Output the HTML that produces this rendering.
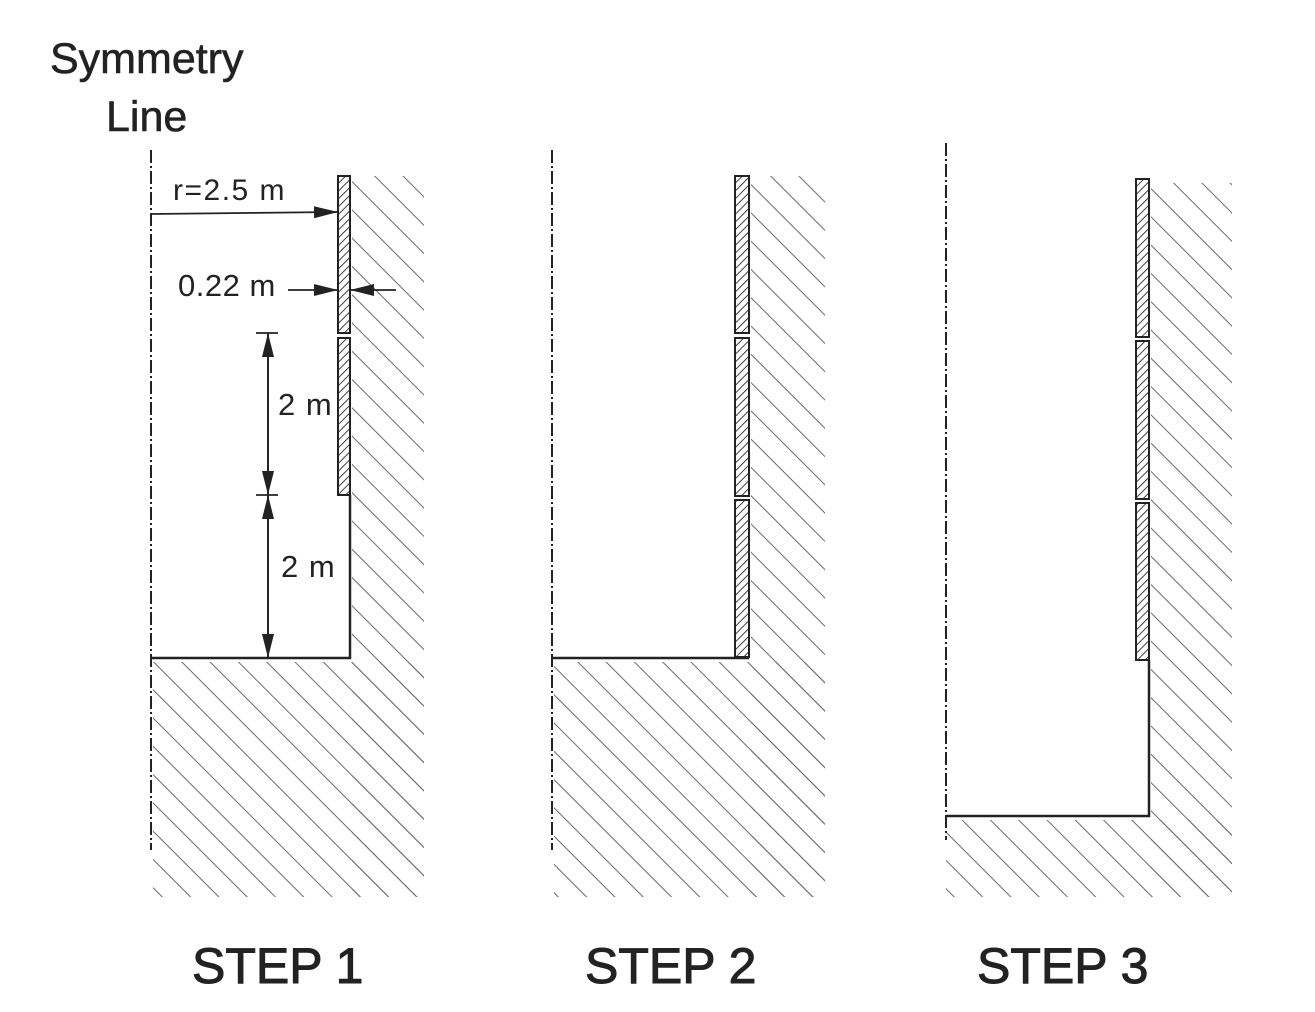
<!DOCTYPE html>
<html><head><style>html,body{margin:0;padding:0;background:#fff}svg{display:block}</style></head>
<body>
<svg width="1315" height="1012" viewBox="0 0 1315 1012" xmlns="http://www.w3.org/2000/svg" font-family="Liberation Sans, sans-serif">
<defs>
<pattern id="h" patternUnits="userSpaceOnUse" width="20" height="20" patternTransform="rotate(-45)">
<line x1="0" y1="0" x2="0" y2="20" stroke="#6a6a6a" stroke-width="2"/></pattern>
<pattern id="l" patternUnits="userSpaceOnUse" width="5.5" height="5.5" patternTransform="rotate(45)">
<line x1="0" y1="0" x2="0" y2="5.5" stroke="#111" stroke-width="1.6"/></pattern>
<marker id="a2" markerWidth="24" markerHeight="12" refX="24" refY="6" orient="auto" markerUnits="userSpaceOnUse"><path d="M0,0 L24,6 L0,12 Z" fill="#222"/></marker>
</defs>
<g fill="#222" stroke="#222" stroke-width="0.6">
<text x="50" y="73" font-size="43">Symmetry</text>
<text x="106" y="131" font-size="43">Line</text>
<text x="192" y="983" font-size="50" stroke-width="1">STEP 1</text>
<text x="585" y="983" font-size="50" stroke-width="1">STEP 2</text>
<text x="977" y="983" font-size="50" stroke-width="1">STEP 3</text>
</g>
<g fill="#222">
<text x="173" y="200" font-size="30" letter-spacing="1.5">r=2.5 m</text>
<text x="178" y="296" font-size="31" letter-spacing="0.5">0.22 m</text>
<text x="278" y="415" font-size="31" letter-spacing="1">2 m</text>
<text x="281" y="577" font-size="31" letter-spacing="1">2 m</text>
</g>
<g fill="url(#h)">
<rect x="352" y="176" width="72" height="721"/>
<rect x="153" y="662" width="271" height="235"/>
<rect x="751" y="176" width="74" height="721"/>
<rect x="554" y="662" width="271" height="235"/>
<rect x="1151" y="183" width="81" height="714"/>
<rect x="946" y="820" width="286" height="77"/>
</g>
<g fill="url(#l)" stroke="#222" stroke-width="2">
<rect x="338" y="176" width="12" height="157"/>
<rect x="338" y="338" width="12" height="157"/>
<rect x="735" y="176" width="14" height="157"/>
<rect x="735" y="338" width="14" height="158"/>
<rect x="735" y="500" width="14" height="157"/>
<rect x="1136" y="179" width="13" height="158"/>
<rect x="1136" y="341" width="13" height="158"/>
<rect x="1136" y="503" width="13" height="157"/>
</g>
<g stroke="#222" stroke-width="2.5" fill="none">
<polyline points="151,658 350,658 350,495"/>
<polyline points="552,658 749,658"/>
<polyline points="946,816 1149,816 1149,660"/>
</g>
<g stroke="#222" stroke-width="2" stroke-dasharray="13 3 2 3">
<line x1="151" y1="150" x2="151" y2="850"/>
<line x1="552" y1="150" x2="552" y2="850"/>
<line x1="946" y1="143" x2="946" y2="840"/>
</g>
<g stroke="#222" stroke-width="1.8">
<line x1="151" y1="214" x2="338" y2="212" marker-end="url(#a2)"/>
<line x1="288" y1="290" x2="338" y2="290" marker-end="url(#a2)"/>
<line x1="396" y1="290" x2="350" y2="290" marker-end="url(#a2)"/>
<line x1="256" y1="333" x2="278" y2="333"/>
<line x1="256" y1="495" x2="278" y2="495"/>
<line x1="268" y1="495" x2="268" y2="333" marker-end="url(#a2)"/>
<line x1="268" y1="333" x2="268" y2="495" marker-end="url(#a2)"/>
<line x1="268" y1="495" x2="268" y2="658" marker-end="url(#a2)"/>
<line x1="268" y1="658" x2="268" y2="495" marker-end="url(#a2)"/>
</g>
</svg>
</body></html>
